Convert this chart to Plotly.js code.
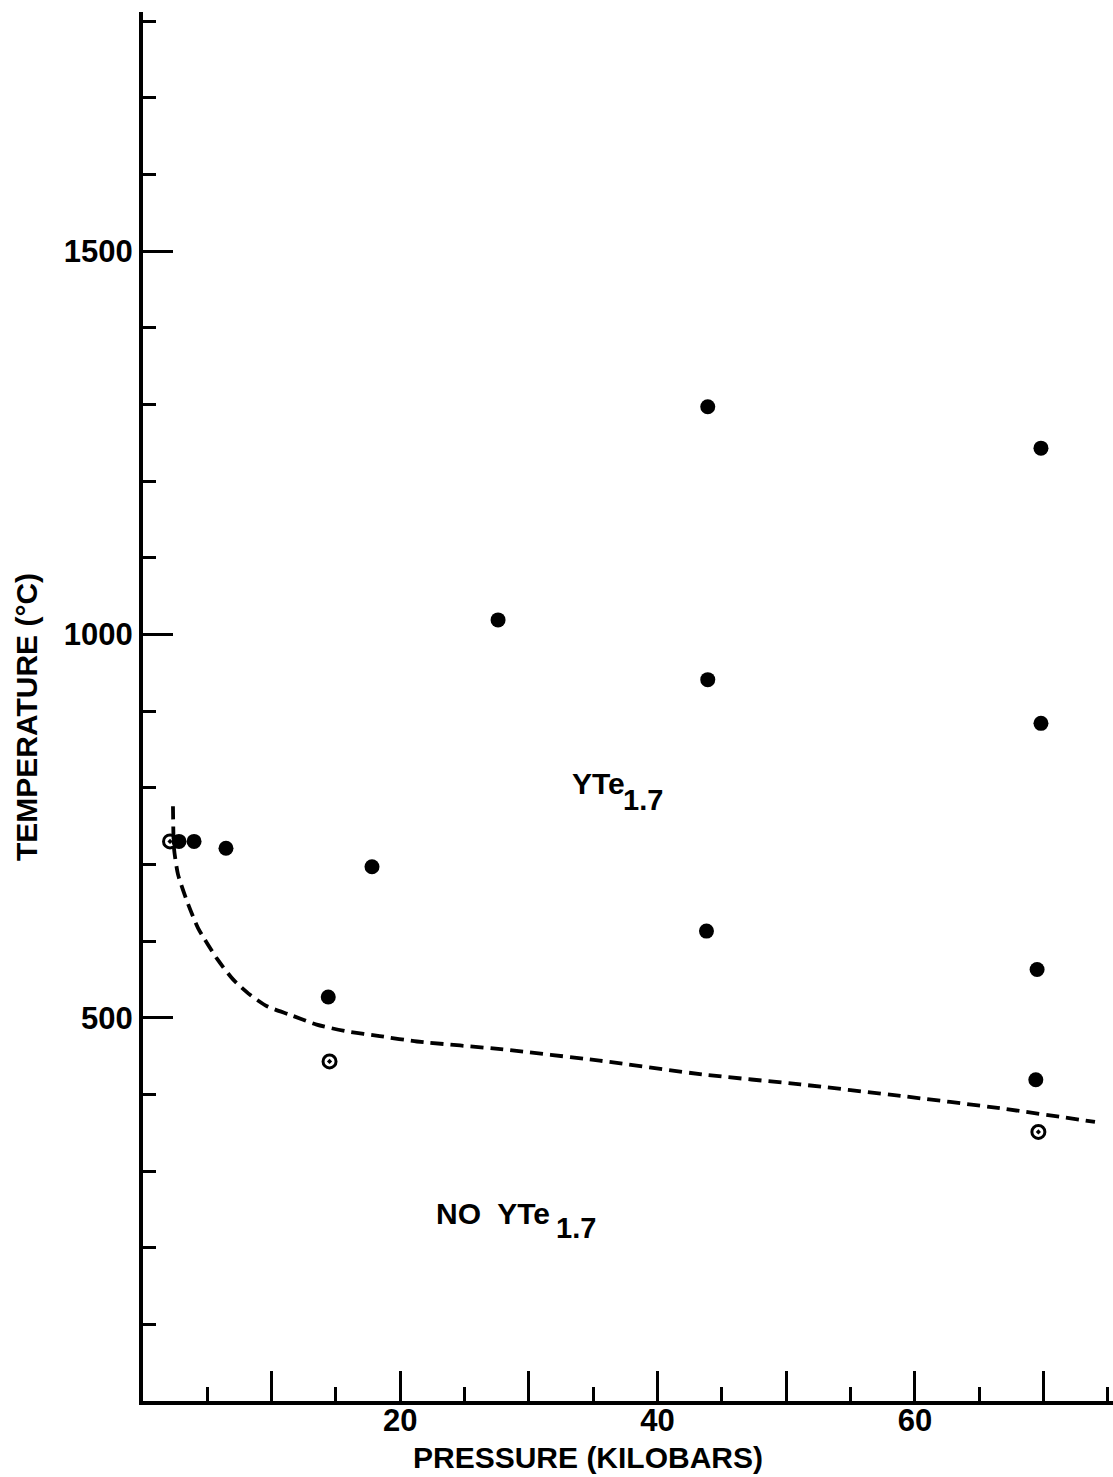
<!DOCTYPE html>
<html>
<head>
<meta charset="utf-8">
<script src="https://cdn.plot.ly/plotly-3.0.1.min.js"></script>
<style>html,body{margin:0;padding:0;background:#fff;}#chart{width:1113px;height:1477px;}</style>
</head>
<body>
<div id="chart"></div>
<script>
// ---- data (pressure in kilobars, temperature in °C) ----
var filledPressure = [2.8, 3.97, 6.45, 14.4, 17.8, 27.6, 43.9, 43.9, 43.8, 69.8, 69.8, 69.5, 69.4];
var filledTemp     = [730, 730, 721, 527, 697, 1019, 1297, 941, 613, 1243, 884, 563, 419];

var openPressure = [2.1, 14.5, 69.6];
var openTemp     = [730, 443, 351];

var boundaryPressure = [2.33, 2.41, 2.72, 3.42, 4.28, 5.75, 7.0, 8.32, 9.64, 11.4, 13.5, 15.9, 18.4, 21.3, 27.8, 35.5, 43.5, 51.1, 58.9, 66.6, 74.0];
var boundaryTemp     = [776, 721, 687, 652, 617, 577, 550, 530, 515, 504, 491, 482, 476, 469, 459, 444, 426, 413, 398, 382, 364];

var xMajorTicks = [10, 20, 30, 40, 50, 60, 70];
var xMajorLabels = ['', '20', '', '40', '', '60', ''];
var xMinorTicks = [5, 15, 25, 35, 45, 55, 65, 75];
var yMajorTicks = [500, 1000, 1500];
var yMajorLabels = ['500', '1000', '1500'];
var yMinorTicks = [100, 200, 300, 400, 600, 700, 800, 900, 1100, 1200, 1300, 1400, 1600, 1700, 1800];

var xTitle = 'PRESSURE (KILOBARS)';
var yTitle = 'TEMPERATURE (°C)';
var regionMain = 'YTe';
var regionSub = '1.7';
var regionNo = 'NO  YTe';

// ---- layout helpers ----
var W = 1113, H = 1477;
var mL = 143, mR = 0, mT = 12, mB = 76;
function px(x) { return (x - mL) / (W - mL - mR); }
function py(y) { return (H - mB - y) / (H - mT - mB); }
var FONT = 'Liberation Sans, Arial, sans-serif';
function f(size) { return {family: FONT, size: size, color: 'black', weight: 'bold'}; }

var traces = [
  {
    x: boundaryPressure, y: boundaryTemp, type: 'scatter', mode: 'lines',
    line: {color: 'black', width: 3.8, dash: '13px,7px', shape: 'spline', smoothing: 0.6},
    hoverinfo: 'skip', showlegend: false
  },
  {
    x: filledPressure, y: filledTemp, type: 'scatter', mode: 'markers',
    marker: {symbol: 'circle', size: 15, color: 'black'},
    showlegend: false
  },
  {
    x: openPressure, y: openTemp, type: 'scatter', mode: 'markers',
    marker: {symbol: 'circle-open-dot', size: 13, color: 'black', line: {color: 'black', width: 3}},
    showlegend: false
  }
];

var axisCommon = {
  showline: true, linewidth: 4, linecolor: 'black',
  ticks: 'inside', ticklen: 30, tickwidth: 3, tickcolor: 'black',
  showgrid: false, zeroline: false, tickmode: 'array',
  tickfont: f(31)
};

var layout = {
  width: W, height: H,
  margin: {l: mL, r: mR, t: mT, b: mB, pad: 0},
  paper_bgcolor: 'white', plot_bgcolor: 'white',
  showlegend: false,
  font: {family: FONT, color: 'black'},
  xaxis: Object.assign({}, axisCommon, {
    range: [0, 75.4],
    tickvals: xMajorTicks, ticktext: xMajorLabels,
    ticklabelstandoff: -11,
    minor: {tickmode: 'array', tickvals: xMinorTicks, ticks: 'inside', ticklen: 14, tickwidth: 3, tickcolor: 'black', showgrid: false}
  }),
  yaxis: Object.assign({}, axisCommon, {
    range: [0, 1812],
    tickvals: yMajorTicks, ticktext: yMajorLabels,
    ticklabelstandoff: 0,
    minor: {tickmode: 'array', tickvals: yMinorTicks, ticks: 'inside', ticklen: 13, tickwidth: 3, tickcolor: 'black', showgrid: false}
  }),
  annotations: [
    {text: xTitle, xref: 'paper', yref: 'paper', x: px(588), y: py(1458), xanchor: 'center', yanchor: 'middle',
     showarrow: false, font: f(30)},
    {text: yTitle, xref: 'paper', yref: 'paper', x: px(26), y: py(717), xanchor: 'center', yanchor: 'middle',
     textangle: -90, showarrow: false, font: f(30)},
    {text: regionMain, xref: 'paper', yref: 'paper', x: px(570), y: py(783), xanchor: 'left', yanchor: 'middle',
     showarrow: false, font: f(30)},
    {text: regionSub, xref: 'paper', yref: 'paper', x: px(621), y: py(800), xanchor: 'left', yanchor: 'middle',
     showarrow: false, font: f(29)},
    {text: regionNo, xref: 'paper', yref: 'paper', x: px(434), y: py(1213), xanchor: 'left', yanchor: 'middle',
     showarrow: false, font: f(30)},
    {text: regionSub, xref: 'paper', yref: 'paper', x: px(554), y: py(1228), xanchor: 'left', yanchor: 'middle',
     showarrow: false, font: f(29)}
  ]
};

Plotly.newPlot('chart', traces, layout, {displayModeBar: false, staticPlot: true});
</script>
</body>
</html>
